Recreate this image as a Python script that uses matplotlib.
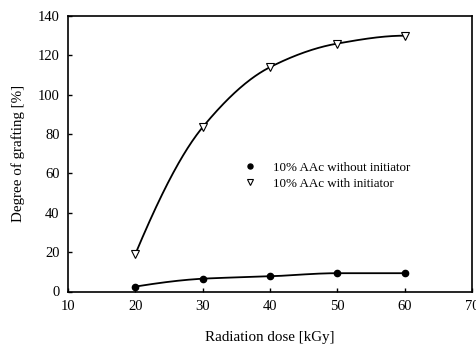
import numpy as np
import matplotlib.pyplot as plt

plt.rcParams['font.family'] = ['Liberation Serif', 'DejaVu Serif']

# Data
dose = [20, 30, 40, 50, 60]
no_init = [2.5, 6.5, 7.7, 9.3, 9.3]
with_init = [19, 83.5, 114, 126, 130]


def pchip(x, y, xs):
    # monotone cubic curve through the measured points
    x = np.asarray(x, float)
    y = np.asarray(y, float)
    h = np.diff(x)
    d = np.diff(y) / h
    m = np.zeros_like(y)
    for k in range(1, len(x) - 1):
        if d[k - 1] * d[k] > 0:
            w1 = 2 * h[k] + h[k - 1]
            w2 = h[k] + 2 * h[k - 1]
            m[k] = (w1 + w2) / (w1 / d[k - 1] + w2 / d[k])
    m[0] = ((2 * h[0] + h[1]) * d[0] - h[0] * d[1]) / (h[0] + h[1])
    if np.sign(m[0]) != np.sign(d[0]):
        m[0] = 0
    m[-1] = ((2 * h[-1] + h[-2]) * d[-1] - h[-1] * d[-2]) / (h[-1] + h[-2])
    if np.sign(m[-1]) != np.sign(d[-1]):
        m[-1] = 0
    idx = np.clip(np.searchsorted(x, xs) - 1, 0, len(x) - 2)
    t = (xs - x[idx]) / h[idx]
    h00 = 2 * t**3 - 3 * t**2 + 1
    h10 = t**3 - 2 * t**2 + t
    h01 = -2 * t**3 + 3 * t**2
    h11 = t**3 - t**2
    return h00 * y[idx] + h10 * h[idx] * m[idx] + h01 * y[idx + 1] + h11 * h[idx] * m[idx + 1]


xs = np.linspace(dose[0], dose[-1], 300)

fig = plt.figure(figsize=(4.77, 3.45), dpi=100)
ax = fig.add_axes([68 / 477, 1 - 291.5 / 345, 404 / 477, 275.5 / 345])

ax.plot(xs, pchip(dose, no_init, xs), color='black', lw=1.3)
ax.plot(xs, pchip(dose, with_init, xs), color='black', lw=1.3)
ax.plot(dose, no_init, 'o', color='black', ms=4.5, label='10% AAc without initiator')
ax.plot(dose, with_init, 'v', mfc='white', mec='black', mew=0.8, ms=6,
        label='10% AAc with initiator')

ax.set_xlim(10, 70)
ax.set_ylim(0, 140)
ax.set_xticks([10, 20, 30, 40, 50, 60, 70])
ax.set_yticks([0, 20, 40, 60, 80, 100, 120, 140])
ax.tick_params(direction='in', length=3, width=1, labelsize=10.5, pad=6)
for s in ax.spines.values():
    s.set_linewidth(1.2)

ax.set_xlabel('Radiation dose [kGy]', fontsize=10.8, labelpad=13)
ax.set_ylabel('Degree of grafting [%]', fontsize=10.8, labelpad=9)

ax.legend(loc='upper left', bbox_to_anchor=(0.39, 0.515), frameon=False,
          fontsize=9.4, handletextpad=0.7, labelspacing=0.3, markerscale=0.8)

fig.savefig('out.png', dpi=100)
